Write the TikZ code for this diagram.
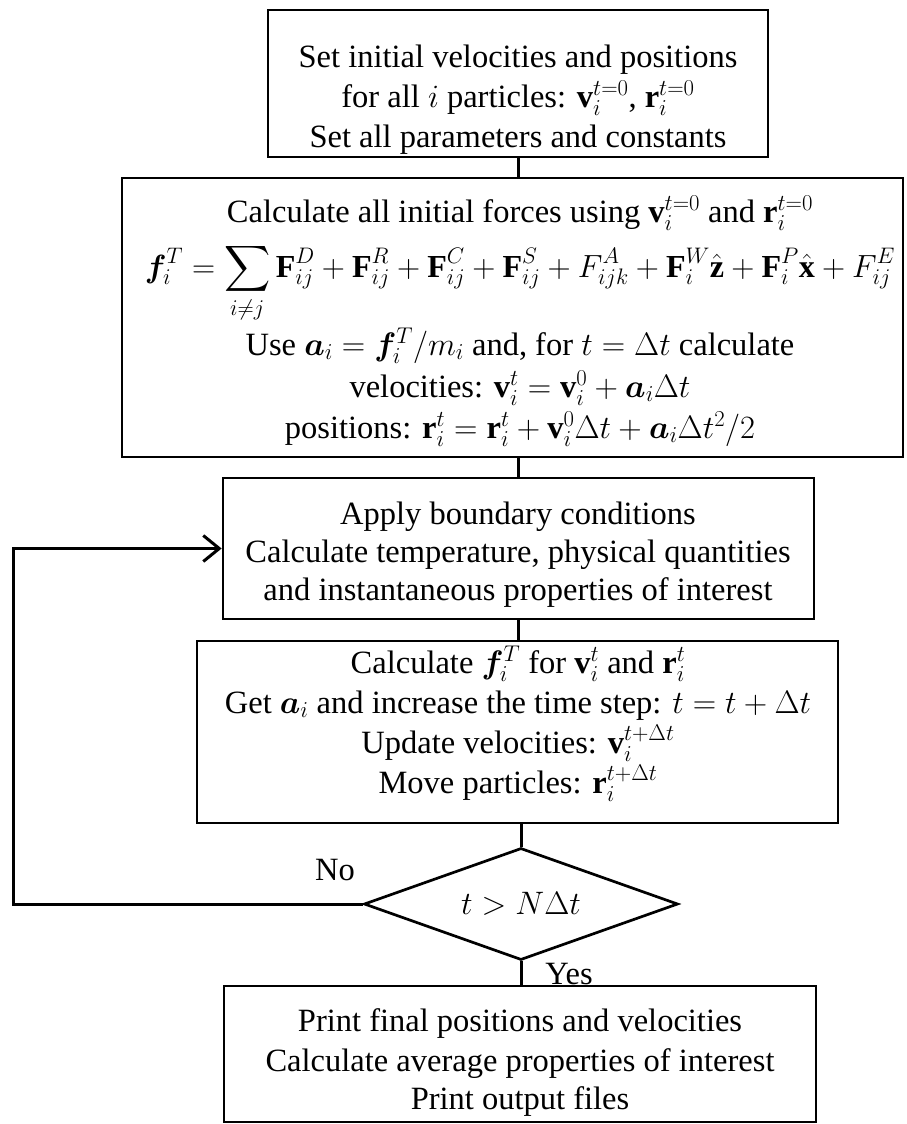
\RequirePackage{fix-cm}
\documentclass[tikz,border=0pt]{standalone}
\usepackage{amsmath,amssymb,bm}
\usepackage{fontspec}
\setmainfont{Liberation Serif}
\usetikzlibrary{arrows.meta,shapes.geometric}
\begin{document}
\begin{tikzpicture}[x=1pt,y=-1pt,
  boxnode/.style={draw,line width=2.7pt,inner sep=0pt,rectangle},
  txt/.style={inner sep=0pt,anchor=base,font=\fontsize{32.5}{40}\selectfont},
  conn/.style={line width=3pt},
  decide/.style={draw,diamond,line width=2.7pt,inner sep=0pt,aspect=2.8,font=\fontsize{32.5}{40}\selectfont}]
\useasboundingbox (0,0) rectangle (906,1124);
% boxes
\node[boxnode,minimum width=500pt,minimum height=147pt] (b1) at (518,83.5) {};
\node[boxnode,minimum width=781pt,minimum height=279pt] (b2) at (512.5,317.5) {};
\node[boxnode,minimum width=591pt,minimum height=141pt] (b3) at (518.5,548.5) {};
\node[boxnode,minimum width=641pt,minimum height=182pt] (b4) at (517.5,732) {};
\node[decide,minimum width=314pt,minimum height=112pt] (d) at (521,904) {$t > N\Delta t$};
\node[boxnode,minimum width=592pt,minimum height=136pt] (b5) at (520,1054) {};
% box 1 text
\node[txt] (t11) at (518,67) {Set initial velocities and positions};
\node[txt] (t12) at (518,107) {for all $i$ particles: $\mathbf{v}_i^{t=0}$, $\mathbf{r}_i^{t=0}$};
\node[txt] (t13) at (518,147) {Set all parameters and constants};
% box 2 text
\node[txt] (t21) at (520,222) {Calculate all initial forces using $\mathbf{v}_i^{t=0}$ and $\mathbf{r}_i^{t=0}$};
\node[txt] (t22) at (520,277) {\resizebox{750pt}{!}{$\displaystyle \bm{f}_i^T = \sum_{i\neq j} \mathbf{F}_{ij}^D + \mathbf{F}_{ij}^R + \mathbf{F}_{ij}^C + \mathbf{F}_{ij}^S + F_{ijk}^A + \mathbf{F}_i^W\hat{\mathbf{z}} + \mathbf{F}_i^P\hat{\mathbf{x}} + F_{ij}^E$}};
\node[txt] (t23) at (520,355) {Use $\bm{a}_i = \bm{f}_i^T/m_i$ and, for $t=\Delta t$ calculate};
\node[txt] (t24) at (520,397) {velocities: $\mathbf{v}_i^t = \mathbf{v}_i^0 + \bm{a}_i\Delta t$};
\node[txt] (t25) at (520,438) {positions: $\mathbf{r}_i^t = \mathbf{r}_i^t + \mathbf{v}_i^0\Delta t + \bm{a}_i\Delta t^2/2$};
% box 3 text
\node[txt] (t31) at (518,524) {Apply boundary conditions};
\node[txt] (t32) at (518,562) {Calculate temperature, physical quantities};
\node[txt] (t33) at (518,600) {and instantaneous properties of interest};
% box 4 text
\node[txt] (t41) at (518,673) {Calculate $\bm{f}_i^T$ for $\mathbf{v}_i^t$ and $\mathbf{r}_i^t$};
\node[txt] (t42) at (518,713) {Get $\bm{a}_i$ and increase the time step: $t=t+\Delta t$};
\node[txt] (t43) at (518,753) {Update velocities: $\mathbf{v}_i^{t+\Delta t}$};
\node[txt] (t44) at (518,793) {Move particles: $\mathbf{r}_i^{t+\Delta t}$};
% box 5 text
\node[txt] (t51) at (520,1031) {Print final positions and velocities};
\node[txt] (t52) at (520,1071) {Calculate average properties of interest};
\node[txt] (t53) at (520,1109) {Print output files};
% labels
\node[txt] (no) at (335,880) {No};
\node[txt] (yes) at (569,984) {Yes};
% connectors
\coordinate (lp) at (13,0);
\draw[conn] (b1.south) -- (b1.south |- b2.north);
\draw[conn] (b3.north -| b1.south) -- (b1.south |- b2.south);
\draw[conn] (b3.south -| b1.south) -- (b1.south |- b4.north);
\draw[conn] (b4.south -| d.north) -- (d.north);
\draw[conn] (d.south) -- (d.south |- b5.north);
\draw[conn,line join=miter,-{Straight Barb[length=16pt,width=26pt,line width=3pt]}] (d.west) -- (d.west -| lp) -- (b3.west -| lp) -- (b3.west);
\end{tikzpicture}
\end{document}
